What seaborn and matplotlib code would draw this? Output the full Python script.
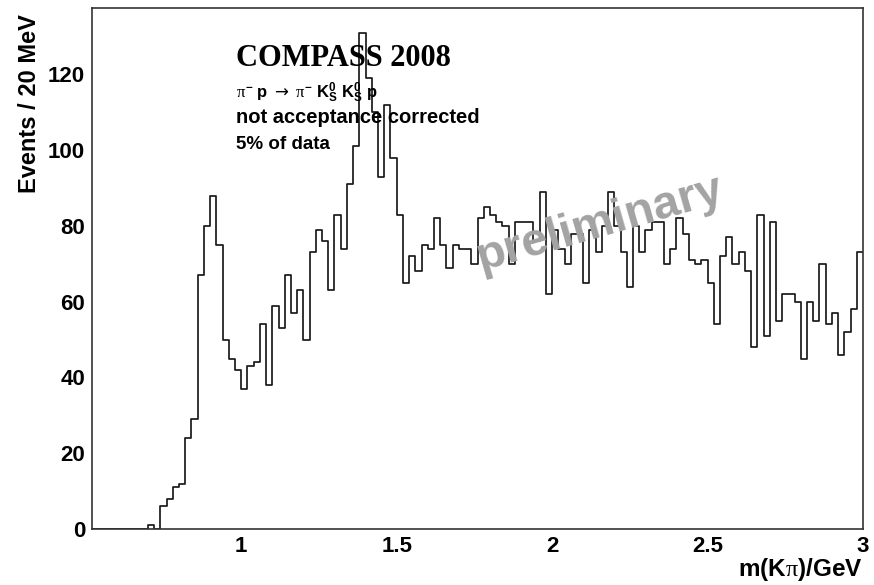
import numpy as np
import pandas as pd
import matplotlib
matplotlib.use("Agg")
import matplotlib.pyplot as plt
from matplotlib.ticker import FixedLocator, MultipleLocator
import seaborn as sns

# K pi invariant mass spectrum, 20 MeV bins from 0.52 to 3.00 GeV
mass_min = 0.52
mass_max = 3.00
events = [
    0, 0, 0, 0, 0, 0, 0, 0, 0,                      # 0.52 - 0.70
    1, 0, 6, 8, 11, 12, 24, 29, 67, 80, 88, 75, 50, 45, 42,   # 0.70 - 1.00
    37, 43, 44, 54, 38, 59, 53, 67, 57, 63,         # 1.00 - 1.20
    50, 73, 79, 76, 63, 83, 74, 91, 101, 131,       # 1.20 - 1.40
    119, 110, 93, 112, 98, 83, 65, 72, 68, 75,      # 1.40 - 1.60
    74, 82, 75, 69, 75, 74, 74, 70, 82, 85,         # 1.60 - 1.80
    83, 81, 80, 70, 81, 81, 81, 76, 89, 62,         # 1.80 - 2.00
    79, 74, 70, 78, 78, 65, 79, 73, 80, 89,         # 2.00 - 2.20
    80, 73, 64, 80, 73, 79, 81, 81, 70, 74,         # 2.20 - 2.40
    82, 78, 71, 70, 71, 65, 54, 72, 77, 70,         # 2.40 - 2.60
    73, 68, 48, 83, 51, 81, 55, 62, 62, 60,         # 2.60 - 2.80
    45, 60, 55, 70, 54, 57, 46, 52, 58, 73,         # 2.80 - 3.00
]
x_major_ticks = [1.0, 1.5, 2.0, 2.5, 3.0]
x_major_labels = ["1", "1.5", "2", "2.5", "3"]
y_major_ticks = [0, 20, 40, 60, 80, 100, 120]

title_text = "COMPASS 2008"
reaction_text = (r"$\pi^{\mathbf{-}}$ p $\rightarrow$ $\pi^{\mathbf{-}}$ "
                 r"K$^{\mathbf{0}}_{\mathbf{S}}$ K$^{\mathbf{0}}_{\mathbf{S}}$ p")
note_lines = ["not acceptance corrected", "5% of data"]
watermark = "preliminary"

sns.set_theme(style="white")
plt.rcParams["font.family"] = ["Liberation Sans", "DejaVu Sans"]
plt.rcParams["text.color"] = "black"
plt.rcParams["mathtext.fontset"] = "custom"
plt.rcParams["mathtext.rm"] = "DejaVu Sans"
plt.rcParams["mathtext.bf"] = "Liberation Sans:bold"
plt.rcParams["mathtext.it"] = "Liberation Serif"

n_bins = len(events)
edges = [round(v, 4) for v in np.linspace(mass_min, mass_max, n_bins + 1)]
centers = [0.5 * (a + b) for a, b in zip(edges[:-1], edges[1:])]
df = pd.DataFrame({"mass": centers, "events": events})

W, H = 874, 585
fig = plt.figure(figsize=(W / 100, H / 100), dpi=100)
ax = fig.add_axes([92 / W, (H - 529) / H, (863 - 92) / W, (529 - 8) / H])

sns.histplot(data=df, x="mass", weights="events", bins=edges,
             element="step", fill=False, color="#1a1a1a", linewidth=1.25,
             ax=ax, legend=False)

ax.set_xlim(mass_min, mass_max)
ax.set_ylim(0, 1.05 * max(events))
ax.set_xlabel("")
ax.set_ylabel("")

ax.xaxis.set_major_locator(FixedLocator(x_major_ticks))
ax.set_xticklabels(x_major_labels)
ax.xaxis.set_minor_locator(MultipleLocator(0.1))
ax.yaxis.set_major_locator(FixedLocator(y_major_ticks))
ax.yaxis.set_minor_locator(MultipleLocator(5))

ax.tick_params(axis="both", which="both", direction="in", top=False, right=False,
               color="#333333", width=1.0, labelcolor="black")
ax.tick_params(axis="both", which="major", length=16, labelsize=16, pad=5)
ax.tick_params(axis="both", which="minor", length=8)
for lab in ax.get_xticklabels() + ax.get_yticklabels():
    lab.set_fontweight("bold")

for sp in ax.spines.values():
    sp.set_visible(True)
    sp.set_color("#333333")
    sp.set_linewidth(1.2)

# axis titles placed at the ends of the axes
fig.text(30 / W, 1 - 14 / H, "Events / 20 MeV", rotation=90, ha="center", va="top",
         fontsize=17, fontweight="bold")
fig.text(863 / W, 1 - 576 / H, r"m(K$\pi$)/GeV", ha="right", va="baseline",
         fontsize=17.5, fontweight="bold")

# experiment labels
fig.text(236 / W, 1 - 66 / H, title_text, ha="left", va="baseline",
         fontsize=22, fontweight="bold", family=["Liberation Serif", "DejaVu Serif"])
fig.text(236 / W, 1 - 98 / H, reaction_text, ha="left", va="baseline",
         fontsize=12, fontweight="bold")
fig.text(236 / W, 1 - 123 / H, note_lines[0], ha="left", va="baseline",
         fontsize=14.5, fontweight="bold")
fig.text(236 / W, 1 - 149 / H, note_lines[1], ha="left", va="baseline",
         fontsize=13.5, fontweight="bold")

# watermark over the spectrum
ax.text(2.155, 80.5, watermark, rotation=16, ha="center", va="center",
        fontsize=34, fontweight="bold", color="#a3a3a3", zorder=5)

fig.savefig("out.png", dpi=100)
